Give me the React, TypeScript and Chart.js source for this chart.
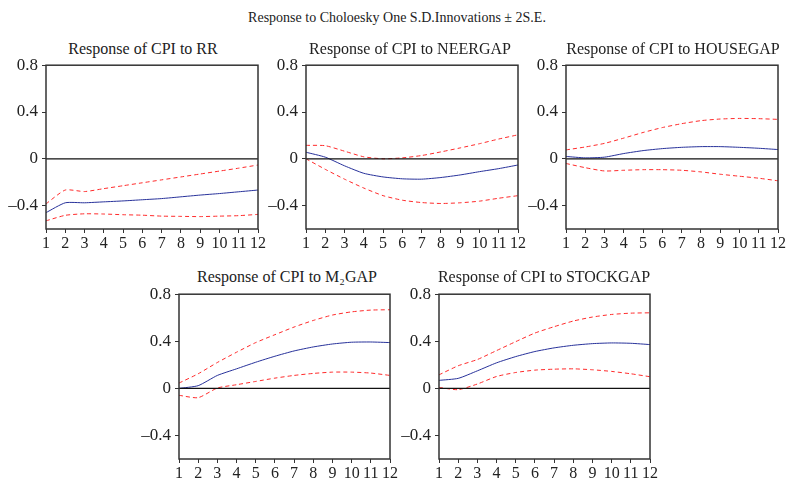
import React, { useEffect, useRef } from "react";
import { Chart, registerables } from "chart.js";

Chart.register(...registerables);

const X_LABELS = ["1", "2", "3", "4", "5", "6", "7", "8", "9", "10", "11", "12"];
const Y_TICKS = [-0.4, 0, 0.4, 0.8];
const Y_MIN = -0.6;
const Y_MAX = 0.8;

const MAIN_TITLE = "Response to Choloesky One S.D.Innovations \u00B1 2S.E.";

// Response of CPI to RR
const RR_MID = [-0.46, -0.376, -0.376, -0.368, -0.36, -0.35, -0.34, -0.325, -0.31, -0.297, -0.282, -0.267];
const RR_UP = [-0.385, -0.267, -0.28, -0.255, -0.23, -0.205, -0.18, -0.155, -0.13, -0.105, -0.08, -0.053];
const RR_LO = [-0.53, -0.483, -0.47, -0.472, -0.478, -0.482, -0.49, -0.492, -0.494, -0.49, -0.486, -0.475];

// Response of CPI to NEERGAP
const NEER_MID = [0.056, 0.014, -0.06, -0.124, -0.155, -0.171, -0.174, -0.16, -0.138, -0.11, -0.084, -0.053];
const NEER_UP = [0.115, 0.112, 0.065, 0.017, 0.0, 0.008, 0.028, 0.059, 0.093, 0.129, 0.169, 0.205];
const NEER_LO = [0.0, -0.09, -0.174, -0.25, -0.315, -0.354, -0.374, -0.382, -0.376, -0.362, -0.337, -0.315];

// Response of CPI to HOUSEGAP
const HOUSE_MID = [0.02, 0.008, 0.014, 0.045, 0.07, 0.087, 0.098, 0.104, 0.104, 0.098, 0.09, 0.079];
const HOUSE_UP = [0.076, 0.101, 0.132, 0.177, 0.225, 0.267, 0.3, 0.326, 0.34, 0.345, 0.343, 0.337];
const HOUSE_LO = [-0.04, -0.076, -0.104, -0.098, -0.093, -0.093, -0.098, -0.112, -0.132, -0.149, -0.166, -0.188];

// Response of CPI to M2GAP
const M2_MID = [0.0, 0.023, 0.11, 0.166, 0.222, 0.273, 0.318, 0.352, 0.377, 0.392, 0.394, 0.389];
const M2_UP = [0.045, 0.124, 0.22, 0.307, 0.389, 0.456, 0.521, 0.577, 0.623, 0.65, 0.665, 0.668];
const M2_LO = [-0.059, -0.079, 0.003, 0.031, 0.059, 0.087, 0.11, 0.127, 0.138, 0.138, 0.13, 0.11];

// Response of CPI to STOCKGAP
const STOCK_MID = [0.068, 0.085, 0.149, 0.217, 0.27, 0.313, 0.344, 0.366, 0.38, 0.386, 0.383, 0.372];
const STOCK_UP = [0.115, 0.192, 0.245, 0.321, 0.397, 0.47, 0.524, 0.572, 0.606, 0.628, 0.639, 0.642];
const STOCK_LO = [0.008, -0.011, 0.037, 0.101, 0.135, 0.155, 0.163, 0.166, 0.158, 0.144, 0.124, 0.099];

const FONT = "'Liberation Serif', 'DejaVu Serif', serif";
const AXIS_W = 46;
const XAXIS_H = 25;
const PAD_TOP = 12;
const PAD_RIGHT = 9;

type Panel = {
  title: string;
  titleX: number;
  titleY: number;
  x0: number;
  x1: number;
  y0: number;
  y1: number;
  mid: number[];
  up: number[];
  lo: number[];
};

const PANELS: Panel[] = [
  { title: "Response of CPI to RR", titleX: 143, titleY: 49, x0: 46, x1: 258, y0: 63, y1: 229, mid: RR_MID, up: RR_UP, lo: RR_LO },
  { title: "Response of CPI to NEERGAP", titleX: 410, titleY: 49, x0: 306, x1: 518, y0: 63, y1: 229, mid: NEER_MID, up: NEER_UP, lo: NEER_LO },
  { title: "Response of CPI to HOUSEGAP", titleX: 673, titleY: 49, x0: 566, x1: 778, y0: 63, y1: 229, mid: HOUSE_MID, up: HOUSE_UP, lo: HOUSE_LO },
  { title: "Response of CPI to M\u2082GAP", titleX: 287, titleY: 277, x0: 179, x1: 390, y0: 292, y1: 459, mid: M2_MID, up: M2_UP, lo: M2_LO },
  { title: "Response of CPI to STOCKGAP", titleX: 544, titleY: 277, x0: 439, x1: 650, y0: 292, y1: 459, mid: STOCK_MID, up: STOCK_UP, lo: STOCK_LO },
];

const framePlugin = {
  id: "frame",
  afterDatasetsDraw(chart: any) {
    const { ctx, chartArea } = chart;
    const y = chart.scales.y.getPixelForValue(0);
    ctx.save();
    ctx.strokeStyle = "#111";
    ctx.lineWidth = 1.2;
    ctx.beginPath();
    ctx.moveTo(chartArea.left, y);
    ctx.lineTo(chartArea.right, y);
    ctx.stroke();
    ctx.strokeStyle = "#333";
    ctx.lineWidth = 1.5;
    ctx.strokeRect(chartArea.left, chartArea.top, chartArea.right - chartArea.left, chartArea.bottom - chartArea.top);
    ctx.restore();
  },
};

function fmt(v: number): string {
  if (Math.abs(v) < 1e-9) return "0";
  const s = Math.abs(v).toFixed(1);
  return v < 0 ? "\u2013" + s : s;
}

function PanelChart({ p }: { p: Panel }) {
  const ref = useRef<HTMLCanvasElement | null>(null);
  const w = p.x1 - p.x0 + AXIS_W + PAD_RIGHT;
  const h = p.y1 - p.y0 + PAD_TOP + XAXIS_H;
  useEffect(() => {
    if (!ref.current) return;
    const chart = new Chart(ref.current, {
      type: "line",
      data: {
        labels: X_LABELS,
        datasets: [
          { data: p.up, borderColor: "#ff2a2a", borderDash: [4, 3], borderWidth: 1, pointRadius: 0, tension: 0.2, fill: false },
          { data: p.lo, borderColor: "#ff2a2a", borderDash: [4, 3], borderWidth: 1, pointRadius: 0, tension: 0.2, fill: false },
          { data: p.mid, borderColor: "#27319a", borderWidth: 1, pointRadius: 0, tension: 0.2, fill: false },
        ],
      },
      options: {
        animation: false,
        responsive: false,
        maintainAspectRatio: false,
        layout: { padding: { top: PAD_TOP, right: PAD_RIGHT, left: 0, bottom: 0 } },
        plugins: { legend: { display: false }, tooltip: { enabled: false }, title: { display: false } },
        scales: {
          x: {
            type: "category",
            offset: false,
            border: { display: false },
            grid: { display: true, drawOnChartArea: false, drawTicks: true, tickLength: 4, color: "#333", lineWidth: 1 },
            ticks: { color: "#222", font: { family: FONT, size: 16 }, padding: 1, maxRotation: 0, autoSkip: false },
            afterFit: (s: any) => {
              s.height = XAXIS_H;
            },
          },
          y: {
            min: Y_MIN,
            max: Y_MAX,
            border: { display: false },
            afterBuildTicks: (s: any) => {
              s.ticks = Y_TICKS.map((v) => ({ value: v }));
            },
            grid: { display: true, drawOnChartArea: false, drawTicks: true, tickLength: 4, color: "#333", lineWidth: 1 },
            ticks: { color: "#222", font: { family: FONT, size: 17 }, padding: 4, callback: (v: any) => fmt(Number(v)) },
            afterFit: (s: any) => {
              s.width = AXIS_W;
            },
          },
        },
      },
      plugins: [framePlugin],
    } as any);
    return () => chart.destroy();
  }, []);
  return (
    <>
      <div
        style={{
          position: "absolute",
          left: p.titleX - 150,
          width: 300,
          top: p.titleY - 9,
          textAlign: "center",
          fontFamily: FONT,
          fontSize: 16,
          lineHeight: "18px",
          color: "#222",
          whiteSpace: "nowrap",
        }}
      >
        {p.title}
      </div>
      <canvas
        ref={ref}
        width={w}
        height={h}
        style={{ position: "absolute", left: p.x0 - AXIS_W, top: p.y0 - PAD_TOP, width: w, height: h }}
      />
    </>
  );
}

export default function App() {
  return (
    <div style={{ position: "absolute", left: 0, top: 0, width: 786, height: 480, overflow: "hidden", background: "#fff" }}>
      <div
        style={{
          position: "absolute",
          left: 0,
          width: 786,
          top: 9,
          textAlign: "center",
          fontFamily: FONT,
          fontSize: 14,
          lineHeight: "18px",
          color: "#222",
          paddingLeft: 4,
        }}
      >
        {MAIN_TITLE}
      </div>
      {PANELS.map((p, i) => (
        <PanelChart key={i} p={p} />
      ))}
    </div>
  );
}
